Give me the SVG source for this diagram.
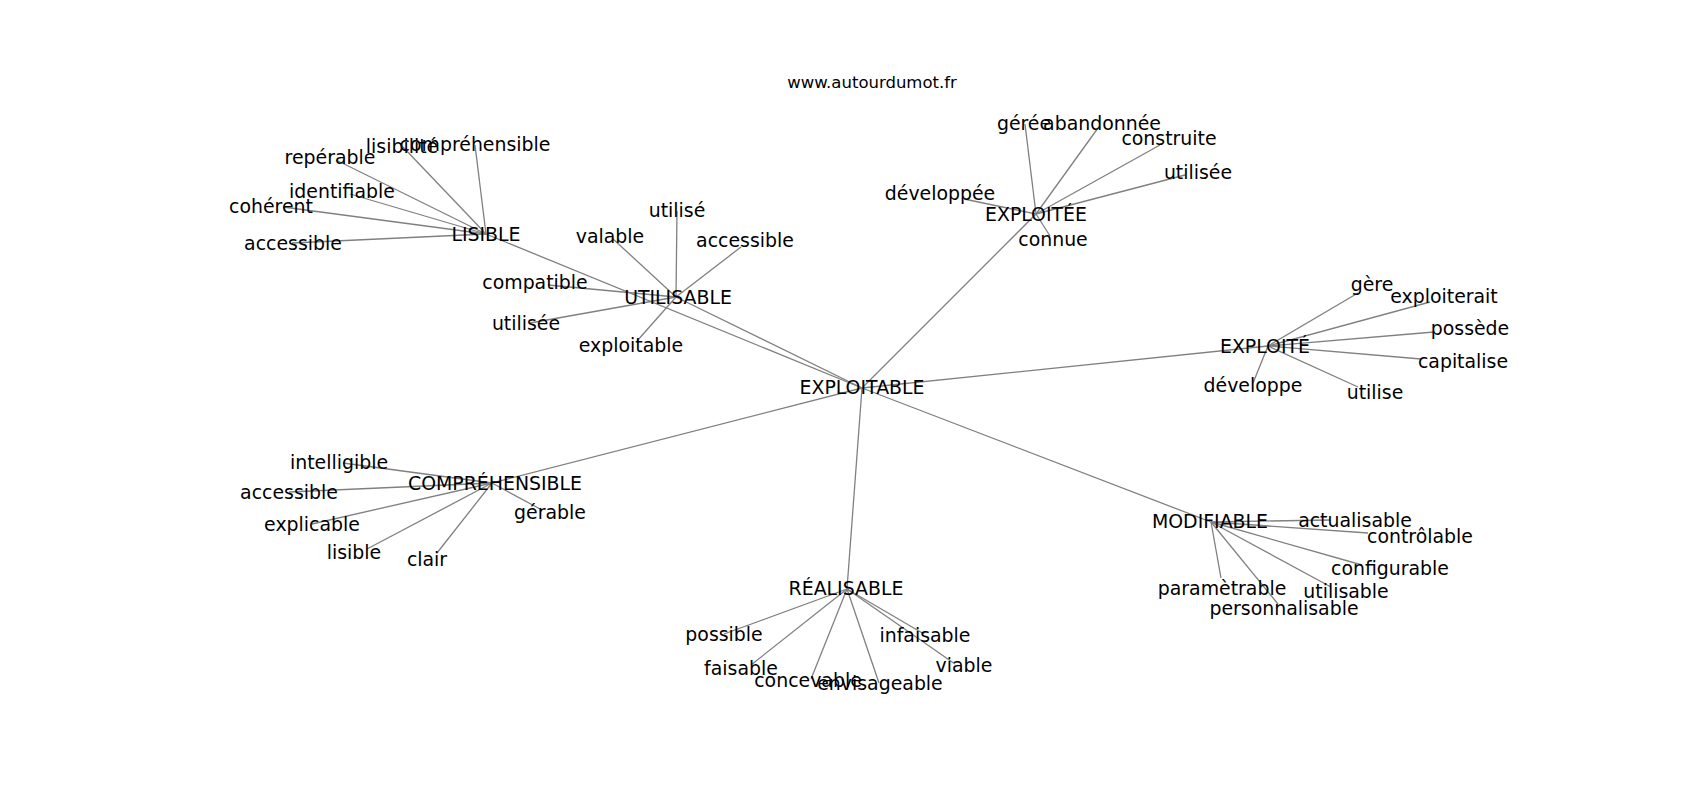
<svg xmlns="http://www.w3.org/2000/svg" width="1700" height="800" viewBox="0 0 1700 800">
<style>
text{font-family:"DejaVu Sans","Liberation Sans",sans-serif;font-size:18.9px;fill:#000;text-anchor:middle}
.t{font-size:16.5px}
#edges line{stroke:#808080;stroke-width:1.3}
</style>
<rect width="1700" height="800" fill="#fff"/>
<text class="t" x="872" y="88">www.autourdumot.fr</text>
<g id="edges">
<line x1="862" y1="388" x2="486" y2="234"/>
<line x1="862" y1="388" x2="676" y2="297"/>
<line x1="862" y1="388" x2="1036" y2="214"/>
<line x1="862" y1="388" x2="1268" y2="346"/>
<line x1="862" y1="388" x2="492" y2="483"/>
<line x1="862" y1="388" x2="847" y2="589"/>
<line x1="862" y1="388" x2="1211" y2="522"/>
<line x1="486" y1="234" x2="475" y2="145"/>
<line x1="486" y1="234" x2="403" y2="147"/>
<line x1="486" y1="234" x2="336" y2="160"/>
<line x1="486" y1="234" x2="350" y2="194"/>
<line x1="486" y1="234" x2="283" y2="207"/>
<line x1="486" y1="234" x2="292" y2="243"/>
<line x1="676" y1="297" x2="612" y2="238"/>
<line x1="676" y1="297" x2="677" y2="211"/>
<line x1="676" y1="297" x2="741" y2="247"/>
<line x1="676" y1="297" x2="548" y2="285"/>
<line x1="676" y1="297" x2="530" y2="323"/>
<line x1="676" y1="297" x2="637" y2="341"/>
<line x1="1036" y1="214" x2="1025" y2="124"/>
<line x1="1036" y1="214" x2="1098" y2="128"/>
<line x1="1036" y1="214" x2="1160" y2="145"/>
<line x1="1036" y1="214" x2="1185" y2="175"/>
<line x1="1036" y1="214" x2="964" y2="199"/>
<line x1="1036" y1="214" x2="1050" y2="236"/>
<line x1="1268" y1="346" x2="1358" y2="293"/>
<line x1="1268" y1="346" x2="1430" y2="302"/>
<line x1="1268" y1="346" x2="1434" y2="332"/>
<line x1="1268" y1="346" x2="1421" y2="359"/>
<line x1="1268" y1="346" x2="1358" y2="387"/>
<line x1="1268" y1="346" x2="1253" y2="383"/>
<line x1="492" y1="483" x2="343" y2="463"/>
<line x1="492" y1="483" x2="289" y2="492"/>
<line x1="492" y1="483" x2="542" y2="510"/>
<line x1="492" y1="483" x2="312" y2="524"/>
<line x1="492" y1="483" x2="367" y2="549"/>
<line x1="492" y1="483" x2="437" y2="553"/>
<line x1="847" y1="589" x2="724" y2="634"/>
<line x1="847" y1="589" x2="751" y2="665"/>
<line x1="847" y1="589" x2="811" y2="679"/>
<line x1="847" y1="589" x2="879" y2="683"/>
<line x1="847" y1="589" x2="924" y2="634"/>
<line x1="847" y1="589" x2="955" y2="664"/>
<line x1="1211" y1="522" x2="1330" y2="520"/>
<line x1="1211" y1="522" x2="1368" y2="533"/>
<line x1="1211" y1="522" x2="1362" y2="565"/>
<line x1="1211" y1="522" x2="1331" y2="587"/>
<line x1="1211" y1="522" x2="1278" y2="604"/>
<line x1="1211" y1="522" x2="1221" y2="578"/>
</g>
<g id="n-exploitable"><text x="862" y="394">EXPLOITABLE</text></g>
<g id="n-lisible"><text x="486" y="241">LISIBLE</text></g>
<g id="n-utilisable"><text x="678" y="304">UTILISABLE</text></g>
<g id="n-exploitee"><text x="1036" y="221">EXPLOITÉE</text></g>
<g id="n-exploite"><text x="1265" y="353">EXPLOITÉ</text></g>
<g id="n-comprehensible"><text x="495" y="490">COMPRÉHENSIBLE</text></g>
<g id="n-realisable"><text x="846" y="595">RÉALISABLE</text></g>
<g id="n-modifiable"><text x="1210" y="528">MODIFIABLE</text></g>
<g id="l-comprehensible"><text x="475" y="151">compréhensible</text></g>
<g id="l-lisibilite"><text x="402" y="153">lisibilité</text></g>
<g id="l-reperable"><text x="330" y="164">repérable</text></g>
<g id="l-identifiable"><text x="342" y="198">identifiable</text></g>
<g id="l-coherent"><text x="271" y="213">cohérent</text></g>
<g id="l-accessible1"><text x="293" y="250">accessible</text></g>
<g id="l-valable"><text x="610" y="243">valable</text></g>
<g id="l-utilise1"><text x="677" y="217">utilisé</text></g>
<g id="l-accessible2"><text x="745" y="247">accessible</text></g>
<g id="l-compatible"><text x="535" y="289">compatible</text></g>
<g id="l-utilisee1"><text x="526" y="330">utilisée</text></g>
<g id="l-exploitable"><text x="631" y="352">exploitable</text></g>
<g id="l-geree"><text x="1024" y="130">gérée</text></g>
<g id="l-abandonnee"><text x="1102" y="130">abandonnée</text></g>
<g id="l-construite"><text x="1169" y="145">construite</text></g>
<g id="l-utilisee2"><text x="1198" y="179">utilisée</text></g>
<g id="l-developpee"><text x="940" y="200">développée</text></g>
<g id="l-connue"><text x="1053" y="246">connue</text></g>
<g id="l-gere"><text x="1372" y="291">gère</text></g>
<g id="l-exploiterait"><text x="1444" y="303">exploiterait</text></g>
<g id="l-possede"><text x="1470" y="335">possède</text></g>
<g id="l-capitalise"><text x="1463" y="368">capitalise</text></g>
<g id="l-developpe"><text x="1253" y="392">développe</text></g>
<g id="l-utilise2"><text x="1375" y="399">utilise</text></g>
<g id="l-intelligible"><text x="339" y="469">intelligible</text></g>
<g id="l-accessible3"><text x="289" y="499">accessible</text></g>
<g id="l-gerable"><text x="550" y="519">gérable</text></g>
<g id="l-explicable"><text x="312" y="531">explicable</text></g>
<g id="l-lisible"><text x="354" y="559">lisible</text></g>
<g id="l-clair"><text x="427" y="566">clair</text></g>
<g id="l-possible"><text x="724" y="641">possible</text></g>
<g id="l-infaisable"><text x="925" y="642">infaisable</text></g>
<g id="l-faisable"><text x="741" y="675">faisable</text></g>
<g id="l-viable"><text x="964" y="672">viable</text></g>
<g id="l-concevable"><text x="808" y="687">concevable</text></g>
<g id="l-envisageable"><text x="880" y="690">envisageable</text></g>
<g id="l-actualisable"><text x="1355" y="527">actualisable</text></g>
<g id="l-controlable"><text x="1420" y="543">contrôlable</text></g>
<g id="l-configurable"><text x="1390" y="575">configurable</text></g>
<g id="l-parametrable"><text x="1222" y="595">paramètrable</text></g>
<g id="l-utilisable"><text x="1346" y="598">utilisable</text></g>
<g id="l-personnalisable"><text x="1284" y="615">personnalisable</text></g>
</svg>
